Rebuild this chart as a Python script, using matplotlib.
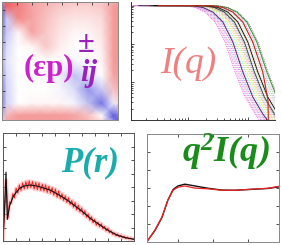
import numpy as np
import matplotlib
matplotlib.use("Agg")
import matplotlib.pyplot as plt
from matplotlib.colors import LinearSegmentedColormap

plt.rcParams["mathtext.fontset"] = "custom"
plt.rcParams["mathtext.bf"] = "Liberation Serif:italic:bold"
SERIF = "Liberation Serif"

# ---- panel 1: correlation map (rows top->bottom, cols left->right)
grid_pos = [0, 0.04, 0.14, 0.26, 0.38, 0.5, 0.62, 0.74, 0.86, 0.96, 1.0]
corr = [
    [0.6, 0.9, 0.7, 0.5, 0.4, 0.35, 0.3, 0.3, 0.3, 0.45, 0.5],
    [-0.8, 0.85, 0.7, 0.5, 0.4, 0.3, 0.25, 0.25, 0.3, 0.55, 0.6],
    [-0.85, -0.3, 0.65, 0.5, 0.35, 0.2, 0.15, 0.15, 0.2, 0.55, 0.6],
    [-0.75, -0.3, 0.05, 0.5, 0.3, 0.15, 0.05, 0.05, 0.15, 0.55, 0.6],
    [-0.6, -0.2, 0.0, 0.05, 0.3, 0.1, 0.0, 0.0, 0.1, 0.55, 0.6],
    [-0.5, -0.15, 0.0, 0.0, 0.0, 0.0, -0.05, 0.0, 0.05, 0.55, 0.6],
    [-0.6, -0.2, 0.0, 0.0, 0.0, -0.1, -0.35, -0.15, 0.0, 0.5, 0.55],
    [-0.75, -0.25, 0.0, 0.0, 0.0, -0.05, -0.2, -0.6, -0.3, 0.35, 0.45],
    [-0.75, -0.25, 0.0, 0.05, 0.05, 0.05, -0.05, -0.35, -0.8, -0.1, 0.2],
    [-0.4, 0.4, 0.55, 0.55, 0.55, 0.55, 0.5, 0.35, 0.0, -0.95, -0.7],
    [-0.2, 0.5, 0.55, 0.55, 0.55, 0.55, 0.5, 0.4, 0.15, -0.7, -0.95],
]

# ---- panel 2: I(q) curves, one template shape shifted in q
base_q = [1.12e-3, 8.9e-3, 0.0131, 0.0192, 0.0282, 0.0414, 0.0607, 0.0891, 0.131, 0.192]
base_I = [1.0, 0.995, 0.90, 0.68, 0.373, 0.111, 0.0182, 0.0040, 0.00144, 6.2e-4]
curve_scale = [1.0, 1.06, 1.12, 1.18, 1.25, 1.32, 1.4, 1.5, 1.6, 1.7, 1.8,
               1.9, 2.0, 2.15, 2.3, 2.5, 2.7, 2.9, 3.1, 3.3, 3.55]
curve_color = ["#ee55cc", "#cc77ee", "#ff88bb", "#9999ff", "#dd66aa", "#66ccff",
               "#aa88dd", "#66eecc", "#ffdd55", "#99ee66", "#ff9966", "#cc99cc",
               "#888888", "#66aaee", "#bbbb44", "#ff99aa", "#88ddaa", "#aaaaaa",
               "#bb88cc", "#99cc99", "#777777"]
solid_scale = [1.35, 2.1, 2.4, 3.4]
solid_color = ["#551155", "#333333", "#000000", "#228822"]
red_q = [0.0032, 0.0258, 0.038, 0.0557, 0.0818, 0.12, 0.176, 0.215, 0.238]
red_I = [1.0, 0.995, 0.9, 0.68, 0.373, 0.111, 0.0182, 0.0034, 1e-6]

# ---- panel 3: P(r)
pr_r = [0, 1, 2.3, 3.3, 5, 7.6, 10, 13, 16, 20.6, 26, 30, 35.9, 42, 48.9,
        55, 61, 67, 74, 80, 87, 93, 99, 100]
pr_fit = [0, 2.0, 5.1, 1.6, 2.6, 3.26, 3.6, 3.93, 4.07, 4.15, 4.07, 3.95, 3.78,
          3.45, 3.04, 2.6, 2.15, 1.65, 1.19, 0.8, 0.44, 0.25, 0.15, 0.12]
pr_r_raw = [i * 1.25 for i in range(81)]
pr_raw = [0, 2.3, 4.5, 1.7, 2.9, 2.8, 3.5, 3.2, 3.9, 3.55, 4.15, 3.75, 4.3, 3.85,
          4.4, 3.9, 4.45, 3.95, 4.4, 3.85, 4.35, 3.8, 4.3, 3.75, 4.2, 3.7, 4.15,
          3.6, 4.05, 3.55, 3.95, 3.4, 3.85, 3.25, 3.7, 3.15, 3.5, 3.0, 3.35, 2.85,
          3.2, 2.7, 3.0, 2.5, 2.85, 2.3, 2.65, 2.15, 2.45, 1.95, 2.25, 1.75, 2.0,
          1.55, 1.8, 1.35, 1.6, 1.17, 1.4, 1.05, 1.28, 0.9, 1.08, 0.75, 0.95, 0.62,
          0.76, 0.48, 0.6, 0.38, 0.52, 0.31, 0.43, 0.25, 0.35, 0.19, 0.28, 0.15,
          0.22, 0.11, 0.16]

# ---- panel 4: Kratky q^2 I(q)
kr_q = [0, 0.23, 0.43, 0.60, 0.75, 0.89, 1.09, 1.38, 1.76, 2.16, 2.53, 3.02, 3.48, 3.80]
kr_exp = [0, 0.64, 1.36, 2.31, 2.86, 3.03, 3.1, 2.98, 2.94, 2.86, 2.86, 2.92, 2.97, 3.08]
kr_fit = [0, 0.62, 1.34, 2.3, 2.9, 3.1, 3.2, 3.1, 2.97, 2.87, 2.86, 2.91, 2.96, 3.05]

W, H = 281, 245
fig = plt.figure(figsize=(W / 100, H / 100), dpi=100)


def box(x0, y0, x1, y1):
    return [x0 / W, 1 - y1 / H, (x1 - x0) / W, (y1 - y0) / H]


def style(ax, color, sides=("left", "bottom", "top", "right")):
    for s in ax.spines.values():
        s.set_color(color)
        s.set_linewidth(0.7)
    ax.tick_params(which="both", direction="in", length=2.5, width=0.6,
                   color="#333333", labelbottom=False, labelleft=False,
                   top="top" in sides, right="right" in sides,
                   left="left" in sides, bottom="bottom" in sides)
    ax.tick_params(which="minor", length=1.5)


# panel 1
ax1 = fig.add_axes(box(2, 2, 118, 120))
cmap = LinearSegmentedColormap.from_list("br", ["#5050dd", "#ffffff", "#ec4c4c"])
X, Y = np.meshgrid(grid_pos, grid_pos)
ax1.pcolormesh(X, Y, np.array(corr), shading="gouraud", cmap=cmap, vmin=-1, vmax=1)
ax1.set_xlim(0, 1)
ax1.set_ylim(1, 0)
ax1.set_xticks([0.13, 0.26, 0.39, 0.52, 0.65, 0.78, 0.91])
ax1.set_yticks([0.068, 0.205, 0.342, 0.479, 0.615, 0.752, 0.889])
style(ax1, "#888888", sides=("left", "top"))
ax1.tick_params(labeltop=False)
ax1.text(0.185, 0.44, "(εp)", transform=ax1.transAxes, fontsize=22, family=SERIF,
         weight="bold", color="#cc22cc", ha="left", va="center")
ax1.text(0.655, 0.64, "±", transform=ax1.transAxes, fontsize=22, family=SERIF,
         weight="bold", color="#9922bb", ha="left", va="center")
ax1.text(0.67, 0.39, "ij", transform=ax1.transAxes, fontsize=22, family=SERIF,
         weight="bold", style="italic", color="#9922bb", ha="left", va="center")

# panel 2
ax2 = fig.add_axes(box(131, 2, 275, 120))
for sc, col in zip(curve_scale, curve_color):
    ax2.plot([q * sc for q in base_q], base_I, color=col, lw=0.6, ls=(0, (1.2, 1.2)))
for sc, col in zip(solid_scale, solid_color):
    ax2.plot([q * sc for q in base_q], base_I, color=col, lw=0.6)
ax2.plot(red_q, red_I, color="#cc2222", lw=0.8)
ax2.set_xscale("log")
ax2.set_yscale("log")
ax2.set_xlim(10 ** -2.95, 10 ** -0.55)
ax2.set_ylim(1e-3, 1.25)
style(ax2, "#333333", sides=("left", "bottom"))
ax2.spines["top"].set_visible(False)
ax2.spines["right"].set_visible(False)
ax2.text(0.40, 0.48, "I(q)", transform=ax2.transAxes, fontsize=27, family=SERIF,
         style="italic", color="#f08080", ha="center", va="center")

# panel 3
ax3 = fig.add_axes(box(3, 133, 134, 241))
ax3.plot(pr_r_raw, pr_raw, color="#ff9999", lw=2.8, alpha=0.5, solid_joinstyle="round")
ax3.plot(pr_r_raw, pr_raw, color="#ee2222", lw=0.7)
ax3.plot(pr_r, pr_fit, color="#111111", lw=0.8)
ax3.set_xlim(0, 100)
ax3.set_ylim(0, 8)
ax3.set_xticks(range(10, 100, 10))
ax3.set_yticks(range(1, 8))
style(ax3, "#555555")
ax3.text(0.665, 0.72, "P(r)", transform=ax3.transAxes, fontsize=25, family=SERIF,
         style="italic", weight="bold", color="#1aacac", ha="center", va="center")

# panel 4
ax4 = fig.add_axes(box(147, 134, 279, 241.5))
ax4.plot(kr_q, kr_fit, color="#111111", lw=1.0)
ax4.plot(kr_q, kr_exp, color="#ee2222", lw=0.9)
ax4.set_xlim(0, 3.8)
ax4.set_ylim(0, 6)
ax4.set_xticks([0.9, 1.9, 2.9])
ax4.set_yticks(range(1, 6))
style(ax4, "#888888")
ax4.text(0.595, 0.83, r"$\mathbf{q^{2}I(q)}$", transform=ax4.transAxes, fontsize=26,
         color="#1a8c1a", ha="center", va="center")

fig.savefig("out.png", dpi=100)
